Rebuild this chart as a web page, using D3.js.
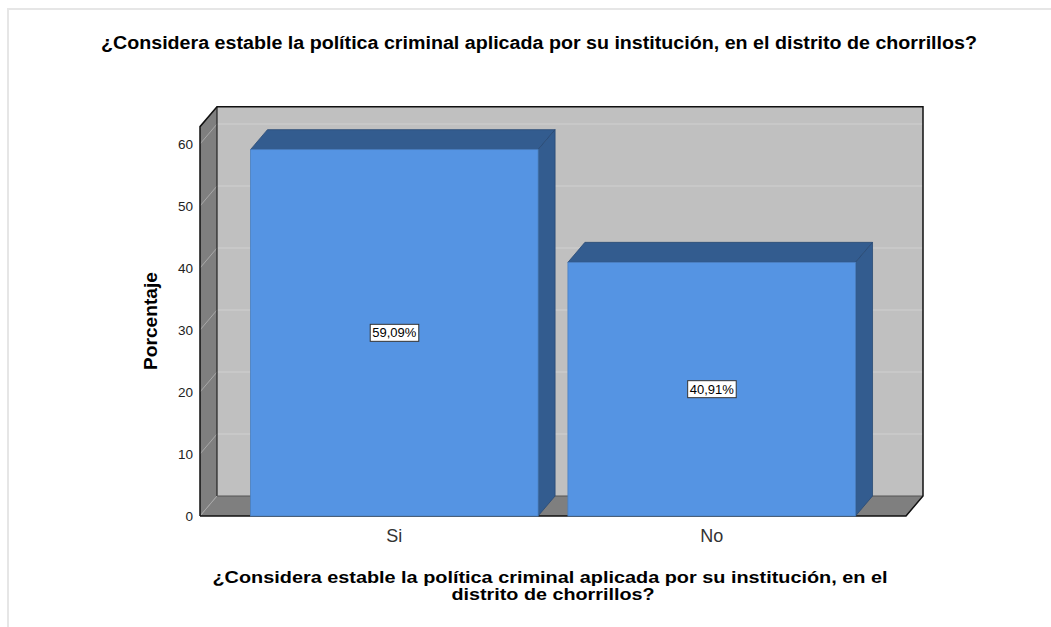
<!DOCTYPE html>
<html><head><meta charset="utf-8">
<script src="https://cdn.jsdelivr.net/npm/d3@7"></script>
<style>body{margin:0;background:#fff;} svg{display:block;font-family:Arial,"Liberation Sans",sans-serif;}</style>
</head><body>
<script>
const categories = ["Si", "No"];
const values = [59.09, 40.91];
const valueLabels = ["59,09%", "40,91%"];
const yTicks = [0, 10, 20, 30, 40, 50, 60];
const title = "¿Considera estable la política criminal aplicada por su institución, en el distrito de chorrillos?";
const xTitleLines = ["¿Considera estable la política criminal aplicada por su institución, en el", "distrito de chorrillos?"];
const yTitle = "Porcentaje";

const W = 1051, H = 627;
const svg = d3.select("body").append("svg").attr("width", W).attr("height", H);

// frame
svg.append("path").attr("d", `M8,${H} V9 H${W}`).attr("fill","none").attr("stroke","#e6e6e6").attr("stroke-width",2);

const x0 = 200, x1 = 906, yBase = 516;
const DX = 17, DY = -20;
const y = d3.scaleLinear().domain([0, 62.8]).range([yBase, yBase - 62.8*6.2]);
const x = d3.scaleBand().domain(categories).range([x0, x1]).paddingInner(0.094).paddingOuter(0.159);
const yTop = y(62.8);

const g = svg.append("g");
// back wall
g.append("rect").attr("x", x0+DX).attr("y", yTop+DY).attr("width", x1-x0).attr("height", yBase-yTop).attr("fill","#c0c0c0");
// back grid lines
g.selectAll(".bg").data(yTicks.filter(d=>d>0)).join("line")
  .attr("x1", x0+DX).attr("x2", x1+DX).attr("y1", d=>y(d)+DY).attr("y2", d=>y(d)+DY)
  .attr("stroke","#d0d0d0").attr("stroke-width",1);
// left wall
g.append("path").attr("d", `M${x0},${yBase} L${x0},${yTop} L${x0+DX},${yTop+DY} L${x0+DX},${yBase+DY} Z`).attr("fill","#7f7f7f");
// floor
g.append("path").attr("d", `M${x0},${yBase} L${x0+DX},${yBase+DY} L${x1+DX},${yBase+DY} L${x1},${yBase} Z`).attr("fill","#7f7f7f");
// left wall grid diagonals
g.selectAll(".lg").data(yTicks).join("line")
  .attr("x1", x0).attr("x2", x0+DX).attr("y1", d=>y(d)).attr("y2", d=>y(d)+DY)
  .attr("stroke","#a8a8a8").attr("stroke-width",1);
// edges
g.append("path").attr("d", `M${x0+DX},${yBase+DY} V${yTop+DY}`).attr("stroke","#222").attr("stroke-width",1.2).attr("fill","none");
g.append("path").attr("d", `M${x0+DX},${yBase+DY} H${x1+DX}`).attr("stroke","#555").attr("stroke-width",1).attr("fill","none");
g.append("path").attr("d", `M${x0},${yBase} V${yTop} L${x0+DX},${yTop+DY} H${x1+DX} V${yBase+DY} L${x1},${yBase} H${x0}`)
  .attr("stroke","#111").attr("stroke-width",1.5).attr("fill","none");

// bars
const bars = g.selectAll(".bar").data(categories.map((c,i)=>({c, v:values[i], l:valueLabels[i]}))).join("g");
bars.append("path").attr("d", d=>{const a=x(d.c), b=a+x.bandwidth(), t=y(d.v);
  return `M${a},${t} L${a+DX},${t+DY} L${b+DX},${t+DY} L${b},${t} Z`;}).attr("fill","#335c8f").attr("stroke","#2a4a75").attr("stroke-width",0.8);
bars.append("path").attr("d", d=>{const b=x(d.c)+x.bandwidth(), t=y(d.v);
  return `M${b},${t} L${b+DX},${t+DY} L${b+DX},${yBase+DY} L${b},${yBase} Z`;}).attr("fill","#335c8f").attr("stroke","#2a4a75").attr("stroke-width",0.8);
bars.append("rect").attr("x", d=>x(d.c)).attr("y", d=>y(d.v)).attr("width", x.bandwidth()).attr("height", d=>yBase-y(d.v))
  .attr("fill","#5594e3").attr("stroke","#4a7fc0").attr("stroke-width",0.8);
// value labels
bars.each(function(d){
  const s = d3.select(this);
  const cx = x(d.c)+x.bandwidth()/2, cy = y(d.v/2);
  const t = s.append("text").attr("x", cx).attr("y", cy+4.5).attr("text-anchor","middle").attr("font-size",13).attr("fill","#000").text(d.l);
  const bb = t.node().getBBox();
  s.insert("rect","text:last-of-type").attr("x", bb.x-2).attr("y", cy-8.5).attr("width", bb.width+4).attr("height", 17)
    .attr("fill","#fff").attr("stroke","#333").attr("stroke-width",1);
});

// y tick labels
svg.selectAll(".yt").data(yTicks).join("text").attr("x", 193).attr("y", d=>y(d)+5).attr("text-anchor","end")
  .attr("font-size",13.5).attr("fill","#222").text(d=>d);
// x labels
svg.selectAll(".xt").data(categories).join("text").attr("x", d=>x(d)+x.bandwidth()/2).attr("y", 542).attr("text-anchor","middle")
  .attr("font-size",18).attr("fill","#333").text(d=>d);

// titles
svg.append("text").attr("x", 539).attr("y", 49).attr("text-anchor","middle").attr("font-size",18)
  .attr("textLength",876).attr("lengthAdjust","spacingAndGlyphs").attr("font-weight","bold").attr("fill","#000").text(title);
svg.append("text").attr("transform","translate(157,321) rotate(-90)").attr("text-anchor","middle").attr("font-size",18)
  .attr("textLength",98).attr("lengthAdjust","spacingAndGlyphs").attr("font-weight","bold").attr("fill","#000").text(yTitle);
const xtLen = [675, 203];
svg.selectAll(".xtl").data(xTitleLines).join("text").attr("x",(d,i)=>i?553:550).attr("y",(d,i)=>583+i*17).attr("text-anchor","middle")
  .attr("font-size",16.5).attr("textLength",(d,i)=>xtLen[i]).attr("lengthAdjust","spacingAndGlyphs")
  .attr("font-weight","bold").attr("fill","#000").text(d=>d);
</script>
</body></html>
